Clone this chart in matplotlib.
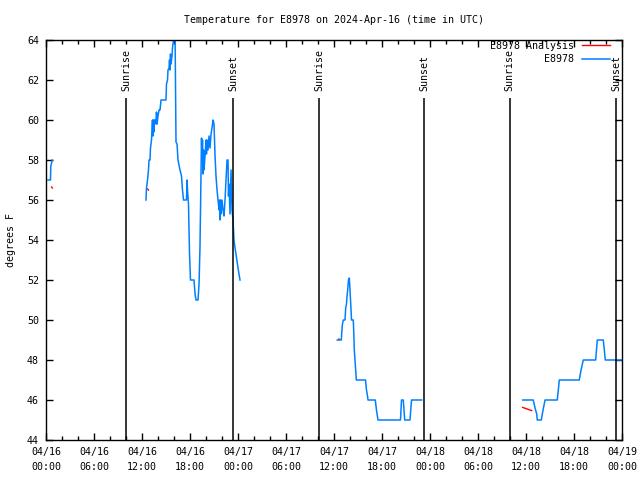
import matplotlib
matplotlib.use('Agg')
import matplotlib.pyplot as plt
import matplotlib.dates as mdates
import pandas as pd

# Data (hours after 2024-04-16 00:00 UTC, temperature in F)
base = pd.Timestamp('2024-04-16 00:00')

obs_hours = [
    [0.25, 0.56, 0.60, 0.73, 0.79],
    [12.50, 12.56, 12.69, 12.81, 12.88, 13.00, 13.06, 13.19, 13.25, 13.31,
     13.38, 13.44, 13.50, 13.56, 13.69, 13.75, 13.81, 13.88, 14.00, 14.13,
     14.25, 14.38, 15.00, 15.06, 15.19, 15.25, 15.38, 15.44, 15.50, 15.56,
     15.63, 15.75, 15.81, 15.94, 16.13, 16.25, 16.38, 16.50, 16.75, 16.94,
     17.06, 17.19, 17.56, 17.63, 17.69, 17.81, 17.94, 18.06, 18.50, 18.63,
     18.75, 19.00, 19.13, 19.25, 19.44, 19.50, 19.56, 19.63, 19.69, 19.75,
     19.88, 20.00, 20.06, 20.13, 20.25, 20.38, 20.50, 20.63, 20.75, 20.88,
     21.00, 21.13, 21.25, 21.38, 21.50, 21.63, 21.69, 21.75, 21.81, 21.88,
     22.00, 22.13, 22.25, 22.38, 22.50, 22.63, 22.75, 22.81, 22.88, 23.00,
     23.13, 23.25, 23.38, 23.50, 23.63, 23.75, 24.00, 24.25],
    [36.41, 36.91, 36.96, 37.04, 37.16, 37.38, 37.46, 37.56, 37.63, 37.71,
     37.81, 37.91, 38.00, 38.13, 38.19, 38.41, 38.46, 38.54, 38.71, 38.79,
     39.94, 40.06, 40.19, 40.25, 41.16, 41.31, 41.50, 44.31, 44.44, 44.66,
     44.84, 45.50, 45.69, 46.96],
    [59.59, 60.91, 61.13, 61.34, 61.41, 61.91, 62.13, 62.38, 63.91, 64.04,
     64.16, 66.66, 66.88, 67.16, 68.71, 68.81, 68.91, 69.66, 69.79, 69.91,
     72.00],
]
obs_temps = [
    [57.0, 57.0, 57.7, 57.9, 58.0],
    [56.0, 56.6, 57.0, 57.5, 58.0, 58.0, 58.6, 59.0, 59.6, 60.0,
     59.2, 60.0, 59.4, 60.0, 60.0, 59.8, 60.4, 59.8, 60.2, 60.5,
     60.5, 61.0, 61.0, 61.8, 62.0, 62.5, 62.6, 63.0, 62.5, 63.3,
     62.8, 63.2, 63.6, 64.0, 64.5, 58.9, 58.8, 58.0, 57.5, 57.2,
     56.5, 56.0, 56.0, 57.0, 56.5, 55.8, 53.3, 52.0, 52.0, 51.3,
     51.0, 51.0, 51.8, 53.7, 59.1, 58.0, 59.0, 57.3, 58.5, 57.5,
     58.2, 59.0, 58.3, 59.0, 58.5, 59.2, 58.6, 59.3, 59.6, 60.0,
     59.8, 58.2, 57.2, 56.5, 56.0, 55.5, 56.0, 55.0, 56.0, 55.3,
     56.0, 55.5, 55.2, 56.0, 57.0, 58.0, 58.0, 56.2, 56.8, 55.3,
     57.5, 55.5, 55.0, 54.0, 53.6, 53.3, 52.6, 52.0],
    [49.0, 49.0, 49.3, 49.75, 50.0, 50.0, 50.6, 50.8, 51.2, 51.5,
     52.0, 52.1, 51.5, 50.5, 50.0, 50.0, 49.5, 48.5, 47.5, 47.0,
     47.0, 46.5, 46.2, 46.0, 46.0, 45.5, 45.0, 45.0, 46.0, 46.0,
     45.0, 45.0, 46.0, 46.0],
    [46.0, 46.0, 45.6, 45.3, 45.0, 45.0, 45.5, 46.0, 46.0, 46.5,
     47.0, 47.0, 47.5, 48.0, 48.0, 48.5, 49.0, 49.0, 48.5, 48.0,
     48.0],
]

ana_hours = [[0.71, 0.79], [12.70, 12.80], [36.60, 36.70], [59.59, 60.00, 60.71]]
ana_temps = [[56.65, 56.60], [56.55, 56.50], [49.05, 49.03], [45.63, 45.57, 45.47]]

sun_hours = [10.06, 23.38, 34.13, 47.31, 57.94, 71.25]
sun_labels = ['Sunrise', 'Sunset', 'Sunrise', 'Sunset', 'Sunrise', 'Sunset']

station = 'E8978'
mono = 'DejaVu Sans Mono'
fs = 7.2


def to_time(hours):
    return base + pd.to_timedelta(hours, unit='h')


fig = plt.figure(figsize=(6.4, 4.8), dpi=100)
ax = fig.add_axes([46 / 640, 40 / 480, 576 / 640, 400 / 480])

for i, (h, t) in enumerate(zip(ana_hours, ana_temps)):
    ax.plot(to_time(h), t, color='#ff0000', lw=1.0,
            label=station + ' Analysis' if i == 0 else None)
for i, (h, t) in enumerate(zip(obs_hours, obs_temps)):
    ax.plot(to_time(h), t, color='#0080ff', lw=1.1,
            label=station if i == 0 else None)

ax.vlines(to_time(sun_hours), 44, 61.1, color='black', lw=1.1)
for h, lab in zip(sun_hours, sun_labels):
    ax.text(to_time(h), 61.45, lab, rotation=90, ha='center', va='bottom',
            family=mono, fontsize=fs)

ax.set_xlim(base, base + pd.Timedelta(hours=72))
ax.set_ylim(44, 64)
ax.set_yticks(range(44, 65, 2))
ax.xaxis.set_major_locator(mdates.HourLocator(byhour=[0, 6, 12, 18]))
ax.xaxis.set_minor_locator(mdates.HourLocator(byhour=range(0, 24, 2)))
ax.xaxis.set_major_formatter(mdates.DateFormatter('%m/%d\n%H:%M'))

ax.tick_params(which='both', direction='in', top=True, right=True,
               labelsize=fs, width=1)
ax.tick_params(which='major', length=5)
ax.tick_params(which='minor', length=3)
ax.tick_params(axis='y', pad=5)
ax.tick_params(axis='x', pad=5)
for lab in ax.get_xticklabels() + ax.get_yticklabels():
    lab.set_family(mono)
    lab.set_linespacing(1.6)
for s in ax.spines.values():
    s.set_linewidth(1)

ax.set_title('Temperature for %s on 2024-Apr-16 (time in UTC)' % station,
             family=mono, fontsize=fs, pad=12)
ax.set_ylabel('degrees F', family=mono, fontsize=fs, labelpad=8)

handles, labels = ax.get_legend_handles_labels()
width = max(len(l) for l in labels)
ax.legend(handles, [l.rjust(width) for l in labels], loc='upper right',
          bbox_to_anchor=(0.98, 0.998), frameon=False, markerfirst=False,
          prop={'family': mono, 'size': fs}, handlelength=2.8,
          handletextpad=0.8, borderpad=0, borderaxespad=0, labelspacing=0.35)

fig.savefig('out.png', dpi=100)
